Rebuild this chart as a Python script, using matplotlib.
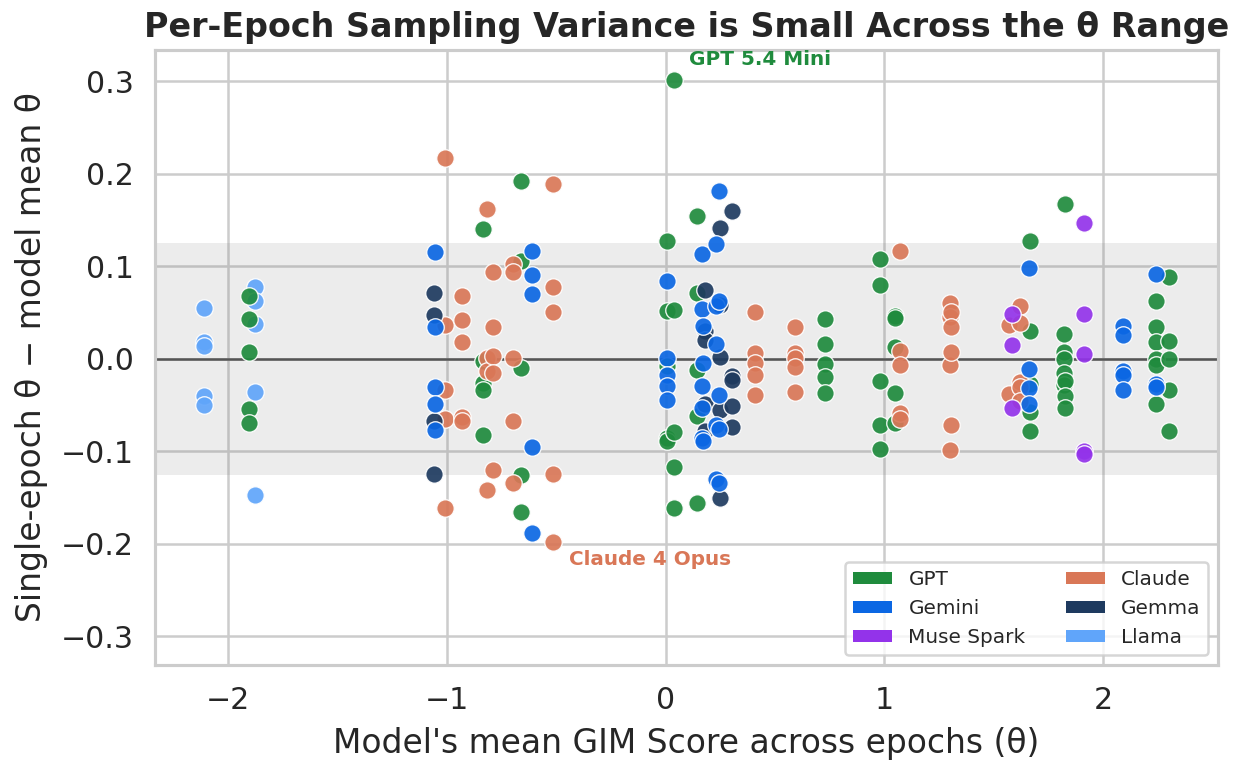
import matplotlib
matplotlib.use("Agg")
import matplotlib.pyplot as plt
import seaborn as sns
from matplotlib.patches import Patch

# model mean theta (x) and per-epoch offsets from that mean (y), grouped by family
llama_theta = [-2.11, -1.877]
llama_offsets = [
    [0.055, 0.018, 0.014, -0.040, -0.050],
    [0.078, 0.063, 0.038, -0.036, -0.147],
]

gpt_theta = [-1.904, -0.836, -0.662, 0.005, 0.038, 0.145, 0.731, 0.982, 1.050,
             1.664, 1.819, 1.826, 2.242, 2.301]
gpt_offsets = [
    [0.068, 0.043, 0.007, -0.054, -0.069],
    [0.140, -0.002, -0.026, -0.034, -0.082],
    [0.192, 0.106, -0.010, -0.126, -0.166],
    [0.128, 0.052, -0.008, -0.085, -0.089],
    [0.301, 0.053, -0.079, -0.117, -0.161],
    [0.155, 0.071, -0.012, -0.062, -0.156],
    [0.043, 0.016, -0.006, -0.020, -0.037],
    [0.108, 0.080, -0.024, -0.071, -0.097],
    [0.046, 0.044, 0.013, -0.037, -0.069],
    [0.128, 0.030, -0.027, -0.057, -0.078],
    [0.027, 0.007, 0.000, -0.015, -0.028],
    [0.168, -0.024, -0.040, -0.053],
    [0.063, 0.035, 0.018, 0.000, -0.007, -0.049],
    [0.089, 0.019, 0.000, -0.034, -0.078],
]

claude_theta = [-1.006, -0.930, -0.817, -0.789, -0.696, -0.515, 0.408, 0.594,
                1.070, 1.302, 1.306, 1.572, 1.618]
claude_offsets = [
    [0.217, 0.037, -0.034, -0.065, -0.161],
    [0.068, 0.042, 0.018, -0.063, -0.067],
    [0.162, 0.001, -0.013, -0.142],
    [0.094, 0.034, 0.003, -0.015, -0.120],
    [0.103, 0.094, 0.001, -0.067, -0.134],
    [0.189, 0.078, 0.051, -0.124, -0.198],
    [0.051, 0.006, -0.004, -0.017, -0.039],
    [0.035, 0.006, 0.001, -0.009, -0.036],
    [0.117, 0.009, -0.007, -0.059, -0.065],
    [0.060, 0.045, -0.007, -0.099],
    [0.051, 0.035, 0.007, -0.072],
    [0.037, -0.038],
    [0.057, 0.039, -0.025, -0.030, -0.045],
]

gemma_theta = [-1.057, 0.180, 0.248, 0.304]
gemma_offsets = [
    [0.071, 0.047, -0.067, -0.124],
    [0.074, 0.030, 0.020, -0.049, -0.078],
    [0.141, 0.058, 0.002, -0.055, -0.150],
    [0.160, -0.018, -0.023, -0.051, -0.074],
]

gemini_theta = [-1.055, -0.609, 0.008, 0.167, 0.172, 0.233, 0.245, 1.661, 2.093, 2.242]
gemini_offsets = [
    [0.116, 0.035, -0.030, -0.049, -0.077],
    [0.117, 0.091, 0.070, -0.095, -0.188],
    [0.084, 0.001, -0.017, -0.029, -0.044],
    [0.113, 0.054, -0.029, -0.053, -0.085],
    [0.036, -0.004, -0.089],
    [0.124, 0.057, 0.016, -0.071, -0.130],
    [0.182, 0.063, -0.039, -0.076, -0.134],
    [0.098, -0.011, -0.031, -0.049],
    [0.036, 0.026, -0.013, -0.017, -0.034],
    [0.092, -0.027, -0.030],
]

muse_theta = [1.583, 1.913]
muse_offsets = [
    [0.048, 0.015, -0.053],
    [0.147, 0.048, 0.005, -0.100, -0.103],
]

# legend fills column-first: GPT/Gemini/Muse Spark, then Claude/Gemma/Llama
legend_order = ["GPT", "Gemini", "Muse Spark", "Claude", "Gemma", "Llama"]
colors = {
    "GPT": "#1f8b3d",
    "Claude": "#d97757",
    "Gemini": "#0b67e3",
    "Gemma": "#1e3a5f",
    "Muse Spark": "#9333ea",
    "Llama": "#60a5fa",
}
band = 0.125

sns.set_theme(style="whitegrid", context="talk")
plt.rcParams["axes.unicode_minus"] = True

fig = plt.figure(figsize=(12.42 / 1.2, 7.63 / 1.2), dpi=120)
ax = fig.add_axes([0.1248, 0.1284, 0.8559, 0.8061])

ax.axhspan(-band, band, color="gray", alpha=0.15, lw=0, zorder=1)
ax.axhline(0, color="#555555", lw=1.5, zorder=2)

groups = [
    ("Llama", llama_theta, llama_offsets),
    ("GPT", gpt_theta, gpt_offsets),
    ("Claude", claude_theta, claude_offsets),
    ("Gemma", gemma_theta, gemma_offsets),
    ("Gemini", gemini_theta, gemini_offsets),
    ("Muse Spark", muse_theta, muse_offsets),
]
for fam, thetas, offs in groups:
    xs, ys = [], []
    for t, o in zip(thetas, offs):
        xs += [t] * len(o)
        ys += o
    ax.scatter(xs, ys, s=110, color=colors[fam], edgecolor="white", linewidth=0.8,
               alpha=0.92, zorder=3)

ax.annotate("GPT 5.4 Mini", xy=(0.038, 0.301), xytext=(0.43, 0.324),
            ha="center", va="center", fontsize=12, fontweight="bold",
            color=colors["GPT"])
ax.annotate("Claude 4 Opus", xy=(-0.515, -0.198), xytext=(-0.07, -0.217),
            ha="center", va="center", fontsize=12, fontweight="bold",
            color=colors["Claude"])

ax.set_xlim(-2.333, 2.525)
ax.set_ylim(-0.331, 0.334)
ax.set_xticks([-2, -1, 0, 1, 2])
ax.set_yticks([-0.3, -0.2, -0.1, 0.0, 0.1, 0.2, 0.3])
ax.tick_params(labelsize=18)
ax.set_xlabel("Model's mean GIM Score across epochs (θ)", fontsize=19.7, labelpad=7)
ax.set_ylabel("Single-epoch θ − model mean θ", fontsize=19.7, labelpad=8)
ax.set_title("Per-Epoch Sampling Variance is Small Across the θ Range",
             fontsize=20, fontweight="bold", pad=8)

handles = [Patch(facecolor=colors[f], edgecolor="none") for f in legend_order]
ax.legend(handles, legend_order, loc="lower right", ncol=2, fontsize=12,
          handlelength=1.95, handleheight=0.5, labelspacing=0.5,
          columnspacing=2.0, borderaxespad=0.5)

fig.savefig("out.png", dpi=120)
